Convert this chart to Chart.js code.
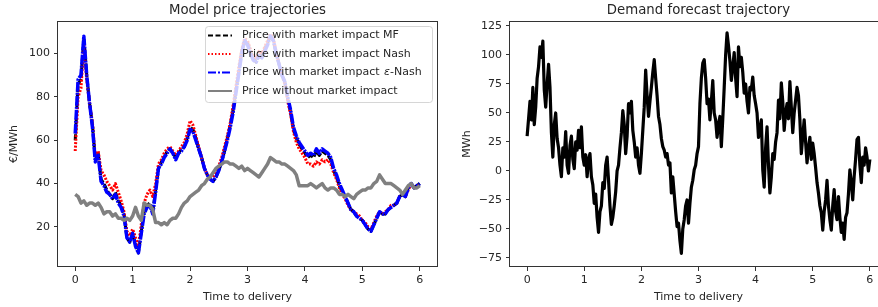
<!DOCTYPE html>
<html>
<head>
<meta charset="utf-8">
<script src="https://cdn.jsdelivr.net/npm/chart.js@4"></script>
<style>
  html, body { margin: 0; padding: 0; background: #fff; overflow: hidden; }
  #priceWrap { position: absolute; left: 0; top: 0; width: 440px; height: 307px; }
  #demandWrap { position: absolute; left: 440px; top: 0; width: 460px; height: 307px; }
</style>
</head>
<body>
<div id="priceWrap"><canvas id="priceChart" width="440" height="307"></canvas></div>
<div id="demandWrap"><canvas id="demandChart" width="460" height="307"></canvas></div>
<script>
// sampling steps of the two trajectories (time to delivery)
const priceStep = 0.05;
const demandStep = 0.025;

const timeTicks = [0, 1, 2, 3, 4, 5, 6];
const priceTicks = [20, 40, 60, 80, 100];
const demandTicks = [-75, -50, -25, 0, 25, 50, 75, 100, 125];

// price trajectories, one value every 0.05
const priceMF = [
  60, 86, 88, 107, 90, 77, 67, 51, 54, 42,
  40, 37, 35, 33, 36, 32, 30, 26, 15, 13,
  17, 12, 8, 18, 27, 30, 31, 27, 37, 47,
  50, 52, 55, 56, 54, 52, 54, 56, 57, 61,
  66, 65, 61, 56, 52, 47, 44, 42, 41, 43,
  46, 50, 55, 61, 67, 74, 83, 92, 101, 106,
  105, 101, 98, 96, 100, 99, 102, 105, 108, 106,
  100, 95, 90, 87, 79, 73, 65, 61, 58, 56,
  54, 52, 53, 52, 55, 53, 55, 54, 53, 51,
  46, 43, 39, 36, 34, 31, 28, 27, 25, 24,
  23, 21, 19, 18, 21, 24, 27, 26, 26, 28,
  29, 30, 31, 34, 35, 34, 38, 40, 38, 39,
  40,
];
const priceNash = [
  55, 80, 84, 104, 88, 77, 68, 52, 55, 46,
  44, 41, 39, 37, 40, 36, 32, 27, 18, 16,
  19, 15, 11, 21, 31, 35, 37, 34, 40, 49,
  51, 54, 56, 57, 55, 53, 55, 57, 59, 63,
  69, 67, 62, 57, 52, 47, 44, 43, 43, 45,
  48, 52, 57, 62, 68, 76, 85, 94, 102, 107,
  106, 102, 99, 98, 101, 100, 103, 106, 109, 107,
  101, 95, 90, 86, 78, 72, 64, 59, 56, 54,
  52, 49, 49, 48, 50, 49, 51, 50, 51, 49,
  45, 42, 38, 35, 33, 30, 28, 27, 26, 25,
  23, 22, 20, 19, 22, 25, 27, 26, 27, 28,
  30, 30, 31, 34, 35, 34, 37, 40, 38, 39,
  39,
];
const priceEpsNash = [
  63, 88, 90, 108, 90, 77, 66, 50, 53, 41,
  39, 36, 35, 33, 35, 31, 29, 25, 15, 13,
  17, 11, 8, 17, 26, 29, 30, 26, 36, 47,
  49, 52, 54, 56, 54, 51, 54, 55, 57, 60,
  65, 64, 60, 56, 52, 47, 44, 42, 41, 43,
  46, 50, 55, 60, 66, 73, 82, 91, 100, 106,
  104, 100, 97, 96, 99, 98, 101, 104, 108, 106,
  100, 95, 90, 87, 80, 74, 66, 62, 59, 57,
  55, 53, 54, 53, 56, 54, 56, 55, 54, 52,
  47, 44, 40, 37, 34, 31, 28, 27, 25, 24,
  23, 21, 19, 18, 21, 24, 27, 26, 26, 28,
  29, 30, 31, 34, 35, 34, 38, 40, 38, 39,
  40,
];
const priceNoImpact = [
  35, 34, 31, 32, 30, 31, 31, 30, 31, 29,
  26, 27, 27, 25, 26, 24, 24, 23, 24, 23,
  25, 29, 25, 23, 31, 30, 30, 28, 22, 22,
  21, 22, 21, 23, 24, 24, 26, 29, 31, 32,
  34, 35, 36, 37, 39, 40, 42, 43, 45, 47,
  48, 49, 50, 50, 49, 49, 48, 47, 48, 46,
  47, 46, 45, 44, 43, 45, 47, 49, 52, 51,
  50, 50, 49, 49, 48, 47, 46, 44, 39, 39,
  39, 39, 40, 39, 38, 39, 40, 38, 37, 38,
  38, 37, 35, 35, 34, 35, 34, 33, 35, 36,
  37, 37, 38, 38, 40, 41, 44, 42, 40, 40,
  40, 39, 38, 37, 35, 37, 39, 40, 38, 38,
  39,
];

// demand forecast, one value every 0.025
const demandForecast = [
  30, 45, 60, 44, 72, 40, 55, 80, 90, 107,
  98, 112, 70, 55, 75, 92, 72, 33, 12, 40,
  50, 28, 20, 5, -5, 20, 12, 34, 5, -2,
  22, 30, 10, 2, 25, 18, 35, 20, 38, 12,
  5, 14, -5, 10, 15, -5, -12, -28, -20, -40,
  -53, -35, -30, -10, -15, 5, 12, -8, -30, -46,
  -40, -30, -18, 0, 5, 20, 33, 52, 40, 15,
  30, 58, 50, 60, 35, 25, 12, 20, 5, -2,
  15, 35, 55, 87, 65, 47, 60, 72, 85, 96,
  80, 65, 47, 40, 28, 21, 18, 12, 15, 5,
  7, -19, -5, -20, -35, -48, -45, -60, -71, -50,
  -42, -30, -25, -45, -28, -14, -8, 1, 5, 15,
  21, 58, 80, 93, 96, 80, 58, 62, 44, 60,
  78, 50, 44, 29, 40, 47, 21, 45, 72, 100,
  119, 108, 95, 78, 90, 102, 80, 64, 107, 90,
  98, 85, 67, 75, 60, 50, 72, 70, 81, 65,
  58, 50, 29, 35, 44, 1, -14, 20, 38, 5,
  -19, -5, 15, 10, 25, 33, 61, 45, 76, 60,
  35, 50, 58, 45, 77, 55, 33, 50, 61, 72,
  65, 44, 15, 30, 44, 25, 7, 20, 29, 10,
  24, 15, 3, -10, -19, -30, -36, -51, -35, -25,
  -8, -30, -42, -51, -30, -16, -35, -42, -22, -40,
  -53, -45, -59, -40, -36, -20, 1, -10, -25, -5,
  10, 27, 29, 5, -10, 12, 5, 20, 12, 0,
  10,
];

const FONT = "'DejaVu Sans', sans-serif";
const TEXT = "#262626";
const SPINE = "#333333";

Chart.defaults.font.family = FONT;
Chart.defaults.font.size = 11;
Chart.defaults.color = TEXT;

function toPoints(values, step) {
  return values.map((v, i) => ({ x: i * step, y: v }));
}

function minusTick(value) {
  return value < 0 ? "\u2212" + Math.abs(value) : String(value);
}

// frame, panel title and (optionally) an inset legend
const panelDecor = {
  id: "panelDecor",
  afterDraw: function (chart, args, opts) {
    const ctx = chart.ctx;
    const a = chart.chartArea;
    ctx.save();

    // all four spines
    ctx.strokeStyle = SPINE;
    ctx.lineWidth = 1;
    ctx.setLineDash([]);
    ctx.strokeRect(
      Math.round(a.left) - 0.5,
      Math.round(a.top) + 0.5,
      Math.round(a.right) - Math.round(a.left) + 1,
      Math.round(a.bottom) - Math.round(a.top) - 1
    );

    // title
    ctx.fillStyle = TEXT;
    ctx.font = "13.3px " + FONT;
    ctx.textAlign = "center";
    ctx.textBaseline = "middle";
    ctx.fillText(opts.text, (a.left + a.right) / 2, 11);

    if (opts.legend) {
      const b = opts.legend;
      ctx.beginPath();
      ctx.roundRect(b.x + 0.5, b.y + 0.5, b.w, b.h, 3);
      ctx.fillStyle = "rgba(255,255,255,0.8)";
      ctx.fill();
      ctx.strokeStyle = "rgba(204,204,204,0.8)";
      ctx.lineWidth = 1;
      ctx.stroke();

      chart.data.datasets.forEach(function (ds, i) {
        const y = b.y + 9.5 + i * 18.5;
        ctx.strokeStyle = ds.borderColor;
        ctx.lineWidth = 2;
        ctx.setLineDash(ds.legendDash || []);
        ctx.beginPath();
        ctx.moveTo(b.x + 3, y);
        ctx.lineTo(b.x + 27, y);
        ctx.stroke();
        ctx.setLineDash([]);

        // epsilon is set in italics like in the original
        const parts = ds.label.split("\u03b5");
        let x = b.x + 37;
        ctx.fillStyle = TEXT;
        ctx.textAlign = "left";
        ctx.font = "11px " + FONT;
        ctx.fillText(parts[0], x, y);
        if (parts.length > 1) {
          x += ctx.measureText(parts[0]).width + 1;
          ctx.font = "italic 11px " + FONT;
          ctx.fillText("\u03b5", x, y);
          x += ctx.measureText("\u03b5").width;
          ctx.font = "11px " + FONT;
          ctx.fillText(parts[1], x, y);
        }
      });
    }
    ctx.restore();
  },
};

function timeAxis() {
  return {
    type: "linear",
    min: -0.3,
    max: 6.3,
    afterBuildTicks: function (axis) {
      axis.ticks = timeTicks.map((v) => ({ value: v }));
    },
    afterFit: function (axis) {
      axis.height = 40;
    },
    grid: {
      drawOnChartArea: false,
      drawTicks: true,
      tickLength: 4,
      tickColor: SPINE,
      tickWidth: 1,
    },
    border: { display: false },
    ticks: { padding: 3, color: TEXT, maxRotation: 0, autoSkip: false },
    title: {
      display: true,
      text: "Time to delivery",
      color: TEXT,
      padding: { top: 0, bottom: 3 },
    },
  };
}

function valueAxis(min, max, tickList, width, label, titlePad) {
  return {
    type: "linear",
    min: min,
    max: max,
    afterBuildTicks: function (axis) {
      axis.ticks = tickList.map((v) => ({ value: v }));
    },
    afterFit: function (axis) {
      axis.width = width;
    },
    grid: {
      drawOnChartArea: false,
      drawTicks: true,
      tickLength: 4,
      tickColor: SPINE,
      tickWidth: 1,
    },
    border: { display: false },
    ticks: { padding: 4, color: TEXT, callback: minusTick },
    title: {
      display: true,
      text: label,
      color: TEXT,
      padding: { top: titlePad, bottom: 0 },
    },
  };
}

// Price chart
const priceCtx = document.getElementById("priceChart").getContext("2d");
const priceChart = new Chart(priceCtx, {
  type: "line",
  data: {
    datasets: [
      {
        label: "Price with market impact MF",
        data: toPoints(priceMF, priceStep),
        borderColor: "#000000",
        borderWidth: 3,
        borderDash: [6, 2],
        legendDash: [5, 2.5],
        order: 3,
      },
      {
        label: "Price with market impact Nash",
        data: toPoints(priceNash, priceStep),
        borderColor: "#ff0000",
        borderWidth: 3,
        borderDash: [2, 1.5],
        legendDash: [1.5, 2],
        order: 2,
      },
      {
        label: "Price with market impact \u03b5-Nash",
        data: toPoints(priceEpsNash, priceStep),
        borderColor: "#0000ff",
        borderWidth: 3.5,
        borderDash: [10, 1, 2, 1],
        legendDash: [8, 2, 2, 2],
        order: 1,
      },
      {
        label: "Price without market impact",
        data: toPoints(priceNoImpact, priceStep),
        borderColor: "#808080",
        borderWidth: 3.5,
        order: 0,
      },
    ],
  },
  options: {
    responsive: false,
    animation: false,
    layout: { padding: { top: 21, right: 3, left: 0, bottom: 0 } },
    elements: { point: { radius: 0 }, line: { tension: 0, borderJoinStyle: "round" } },
    plugins: {
      legend: { display: false },
      tooltip: { enabled: false },
      panelDecor: {
        text: "Model price trajectories",
        legend: { x: 205, y: 26, w: 227, h: 76 },
      },
    },
    scales: {
      x: timeAxis(),
      y: valueAxis(1.5, 115, priceTicks, 58, "\u20ac/MWh", 8),
    },
  },
  plugins: [panelDecor],
});

// Demand chart
const demandCtx = document.getElementById("demandChart").getContext("2d");
const demandChart = new Chart(demandCtx, {
  type: "line",
  data: {
    datasets: [
      {
        label: "Demand forecast",
        data: toPoints(demandForecast, demandStep),
        borderColor: "#000000",
        borderWidth: 3.2,
      },
    ],
  },
  options: {
    responsive: false,
    animation: false,
    layout: { padding: { top: 21, right: 13, left: 0, bottom: 0 } },
    elements: { point: { radius: 0 }, line: { tension: 0, borderJoinStyle: "round" } },
    plugins: {
      legend: { display: false },
      tooltip: { enabled: false },
      panelDecor: { text: "Demand forecast trajectory" },
    },
    scales: {
      x: timeAxis(),
      y: valueAxis(-82.8, 129.3, demandTicks, 70, "MWh", 21),
    },
  },
  plugins: [panelDecor],
});
</script>
</body>
</html>
